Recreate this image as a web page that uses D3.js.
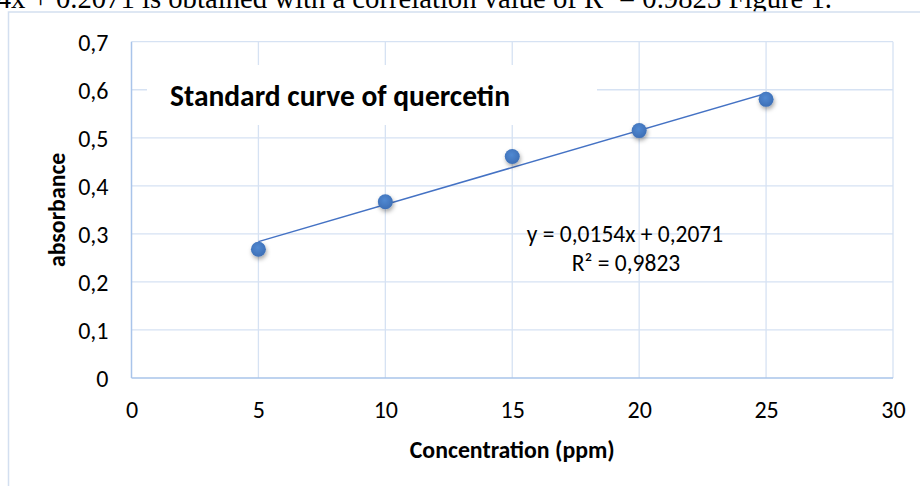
<!DOCTYPE html>
<html>
<head>
<meta charset="utf-8">
<script src="https://cdn.jsdelivr.net/npm/d3@7"></script>
<style>
    body { margin: 0; background: #ffffff; }
    text { font-family: Calibri, Carlito, Lato, sans-serif; fill: #000; }
</style>
</head>
<body>
<script>
// quercetin standard curve

var concentration = [5, 10, 15, 20, 25],
    absorbance = [0.268, 0.367, 0.461, 0.515, 0.580];

var xTicks = [0, 5, 10, 15, 20, 25, 30],
    yTicks = [0, 0.1, 0.2, 0.3, 0.4, 0.5, 0.6, 0.7];

var chartTitle = "Standard curve of quercetin",
    xTitle = "Concentration (ppm)",
    yTitle = "absorbance",
    eqText = "y = 0,0154x + 0,2071",
    r2Text = "R² = 0,9823",
    pageText = "y = 0.0154x + 0.2071 is obtained with a correlation value of R² = 0.9823 Figure 1.";

function initChart()
{
    var width = 920,
        height = 486;

    var svg = d3.select("body").append("svg")
        .attr("width", width)
        .attr("height", height);

    var defs = svg.append("defs");
    var shadow = defs.append("filter")
        .attr("id", "markerShadow")
        .attr("x", "-50%").attr("y", "-50%")
        .attr("width", "200%").attr("height", "200%");
    shadow.append("feDropShadow")
        .attr("dx", 1).attr("dy", 2.5)
        .attr("stdDeviation", 2)
        .attr("flood-color", "#000")
        .attr("flood-opacity", 0.35);

    var grad = defs.append("radialGradient")
        .attr("id", "markerFill")
        .attr("cx", "45%").attr("cy", "40%").attr("r", "60%");
    grad.append("stop").attr("offset", "0%").attr("stop-color", "#5189d2");
    grad.append("stop").attr("offset", "100%").attr("stop-color", "#3d6fb6");

    // paragraph text cut off above the chart
    svg.append("text")
        .attr("x", 832)
        .attr("y", 8)
        .attr("text-anchor", "end")
        .style("font-family", "'Liberation Serif', 'Times New Roman', serif")
        .style("font-size", "28.7px")
        .text(pageText);

    // chart frame
    svg.append("rect")
        .attr("x", 8.5)
        .attr("y", 12)
        .attr("width", 940)
        .attr("height", 500)
        .attr("fill", "#fff")
        .attr("stroke", "#d3dff0")
        .attr("stroke-width", 1.5);

    var left = 131.5, right = 893, top = 41.7, bottom = 378;

    var x = d3.scaleLinear().domain([0, 30]).range([left, right]);
    var y = d3.scaleLinear().domain([0, 0.7]).range([bottom, top]);

    var grid = svg.append("g");
    grid.selectAll(".hgrid").data(yTicks.slice(1))
        .enter().append("line")
        .attr("class", "hgrid")
        .attr("x1", left).attr("x2", right)
        .attr("y1", function(d) { return y(d); })
        .attr("y2", function(d) { return y(d); })
        .attr("stroke", "#d6e2f3")
        .attr("stroke-width", 1.3);
    grid.selectAll(".vgrid").data(xTicks.slice(1))
        .enter().append("line")
        .attr("class", "vgrid")
        .attr("y1", top).attr("y2", bottom)
        .attr("x1", function(d) { return x(d); })
        .attr("x2", function(d) { return x(d); })
        .attr("stroke", "#d6e2f3")
        .attr("stroke-width", 1.3);

    // axis lines
    svg.append("line")
        .attr("x1", left).attr("x2", left)
        .attr("y1", top).attr("y2", bottom)
        .attr("stroke", "#a9c4ea").attr("stroke-width", 1.5);
    svg.append("line")
        .attr("x1", left).attr("x2", right)
        .attr("y1", bottom).attr("y2", bottom)
        .attr("stroke", "#a9c4ea").attr("stroke-width", 1.5);

    // tick labels
    var fmt = function(d) { return d === 0 ? "0" : d3.format(".1f")(d).replace(".", ","); };

    var yAxis = d3.axisLeft(y).tickValues(yTicks).tickFormat(fmt).tickSize(0).tickPadding(23);
    var yG = svg.append("g").attr("transform", "translate(" + left + ",0)").call(yAxis);
    yG.select(".domain").remove();
    yG.selectAll("text")
        .attr("dy", "0.36em")
        .style("font-size", "24px");

    var xAxis = d3.axisBottom(x).tickValues(xTicks).tickFormat(d3.format("d")).tickSize(0).tickPadding(0);
    var xG = svg.append("g").attr("transform", "translate(0," + bottom + ")").call(xAxis);
    xG.select(".domain").remove();
    xG.selectAll("text")
        .attr("y", 40).attr("dy", 0)
        .style("font-size", "24px");

    // axis titles
    svg.append("text")
        .attr("x", (left + right) / 2)
        .attr("y", 458)
        .attr("text-anchor", "middle")
        .style("font-size", "23.8px")
        .style("font-weight", "bold")
        .text(xTitle);

    svg.append("text")
        .attr("transform", "translate(65," + (top + bottom) / 2 + ") rotate(-90)")
        .attr("text-anchor", "middle")
        .style("font-size", "23.8px")
        .style("font-weight", "bold")
        .text(yTitle);

    // linear trendline (least squares over the points)
    var n = concentration.length,
        mx = d3.mean(concentration),
        my = d3.mean(absorbance),
        sxy = 0, sxx = 0;
    for (var i = 0; i < n; i++) {
        sxy += (concentration[i] - mx) * (absorbance[i] - my);
        sxx += (concentration[i] - mx) * (concentration[i] - mx);
    }
    var slope = sxy / sxx,
        icpt = my - slope * mx;
    var xExt = d3.extent(concentration);

    svg.append("line")
        .attr("x1", x(xExt[0])).attr("y1", y(icpt + slope * xExt[0]))
        .attr("x2", x(xExt[1])).attr("y2", y(icpt + slope * xExt[1]))
        .attr("stroke", "#4472c4")
        .attr("stroke-width", 1.5);

    svg.selectAll(".pt").data(concentration)
        .enter().append("circle")
        .attr("class", "pt")
        .attr("cx", function(d) { return x(d); })
        .attr("cy", function(d, i) { return y(absorbance[i]); })
        .attr("r", 7.5)
        .attr("fill", "url(#markerFill)")
        .attr("filter", "url(#markerShadow)");

    // equation label
    svg.append("text")
        .attr("x", 625).attr("y", 242)
        .attr("text-anchor", "middle")
        .style("font-size", "23.5px")
        .text(eqText);
    svg.append("text")
        .attr("x", 626).attr("y", 271)
        .attr("text-anchor", "middle")
        .style("font-size", "23.5px")
        .text(r2Text);

    // title box
    svg.append("rect")
        .attr("x", 147).attr("y", 65)
        .attr("width", 450).attr("height", 60)
        .attr("fill", "#fff");
    svg.append("text")
        .attr("x", 170).attr("y", 106)
        .style("font-size", "29.5px")
        .style("font-weight", "bold")
        .text(chartTitle);
}

initChart();
</script>
</body>
</html>
